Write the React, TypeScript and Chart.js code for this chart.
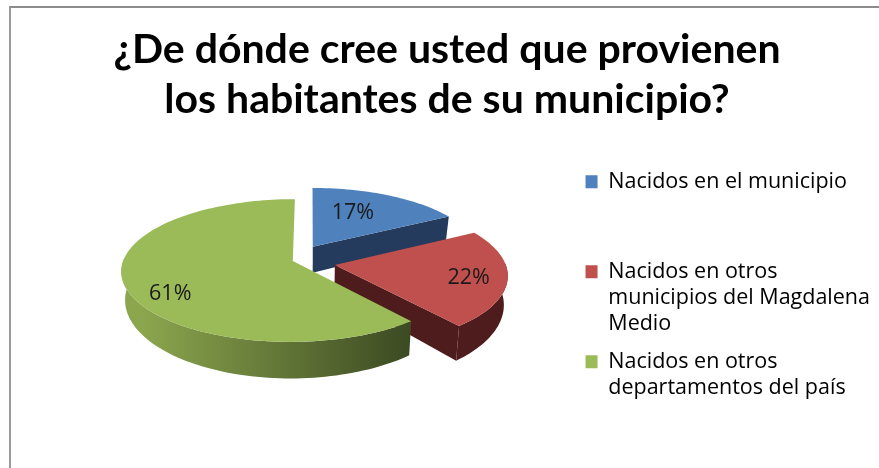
import React, { useEffect, useRef } from "react";
import { Chart, registerables } from "chart.js";

Chart.register(...registerables);

const titleLines = ["¿De dónde cree usted que provienen", "los habitantes de su municipio?"];
const categories = [
  "Nacidos en el municipio",
  "Nacidos en otros municipios del Magdalena Medio",
  "Nacidos en otros departamentos del país",
];
const legendLines = [
  ["Nacidos en el municipio", "", ""],
  ["Nacidos en otros", "municipios del Magdalena", "Medio"],
  ["Nacidos en otros", "departamentos del país"],
];
const values = [17, 22, 61];
const colors = ["#4F81BD", "#C0504D", "#9BBB59"];
const sideColors = ["#243B5E", "#4E1C1C", null];

// 3D look: perspective and slice separation, as fractions of the pie radius
const RADIUS_SCALE = 170 / 142;
const CENTER_SHIFT = { x: 17, y: -25 };
const TILT = 0.414;
const PERSPECTIVE = 0.133;
const DEPTH = 27.6;
const sliceShift = [
  { u: 0.012, v: 0.224 },
  { u: 0.141, v: -0.041 },
  { u: -0.106, v: 0.014 },
];
const labelPlace = [
  { f: 0.6, dx: -7, dy: -2 },
  { f: 0.75, dx: 5, dy: 3 },
  { f: 0.75, dx: 2, dy: 14 },
];

const pie3d = {
  id: "pie3d",
  beforeDatasetDraw(chart: any, args: any) {
    const { ctx } = chart;
    const arcs = args.meta.data;
    arcs.forEach((arc: any, i: number) => {
      const R = arc.outerRadius * RADIUS_SCALE;
      const cx = arc.x + CENTER_SHIFT.x;
      const cy = arc.y + CENTER_SHIFT.y;
      const du = sliceShift[i].u * R;
      const dv = sliceShift[i].v * R;
      const project = (theta: number, f: number) => {
        const u = du + f * R * Math.sin(theta);
        const v = dv + f * R * Math.cos(theta);
        const s = 1 / (1 + (PERSPECTIVE * v) / R);
        return { x: cx + u * s, y: cy - TILT * v * s, s };
      };
      const lower = (p: any) => ({
        x: cx + (p.x - cx) * 0.98,
        y: p.y + DEPTH * p.s * p.s,
      });
      const start = arc.startAngle + Math.PI / 2;
      const end = arc.endAngle + Math.PI / 2;
      const n = Math.ceil((end - start) / 0.03);
      const apex = project(start, 0);
      const thetas: number[] = [];
      for (let k = 0; k <= n; k++) thetas.push(start + ((end - start) * k) / n);
      const rim = thetas.map((t) => project(t, 1));
      const front = thetas.filter((t) => Math.cos(t) < 0.05).map((t) => project(t, 1));
      const mid = (start + end) / 2;
      let side: any = sideColors[i];
      if (!side) {
        const g = ctx.createLinearGradient(cx - R, 0, cx + R * 0.62, 0);
        g.addColorStop(0, "#8CA64E");
        g.addColorStop(1, "#3A4821");
        side = g;
      }
      ctx.save();
      ctx.fillStyle = side;
      const fillPoly = (pts: any[]) => {
        ctx.beginPath();
        pts.forEach((p, k) => (k ? ctx.lineTo(p.x, p.y) : ctx.moveTo(p.x, p.y)));
        ctx.closePath();
        ctx.fill();
      };
      if (front.length > 1) {
        fillPoly([...front, ...front.slice().reverse().map(lower)]);
      }
      if (mid < Math.PI) {
        const tip = rim[rim.length - 1];
        fillPoly([apex, tip, lower(tip), lower(apex)]);
      }
      ctx.fillStyle = arc.options.backgroundColor;
      fillPoly([apex, ...rim]);
      const at = project(mid, labelPlace[i].f);
      ctx.fillStyle = "#1A1A1A";
      ctx.font = "21.5px 'Open Sans'";
      ctx.textAlign = "center";
      ctx.textBaseline = "middle";
      ctx.fillText(`${values[i]}%`, at.x + labelPlace[i].dx, at.y + labelPlace[i].dy);
      ctx.restore();
    });
    return false;
  },
};

export default function App() {
  const ref = useRef<HTMLCanvasElement>(null);
  useEffect(() => {
    const chart = new Chart(ref.current as HTMLCanvasElement, {
      type: "pie",
      data: {
        labels: categories,
        datasets: [{ data: values, backgroundColor: colors, borderWidth: 0 }],
      },
      options: {
        responsive: false,
        animation: false,
        layout: { padding: { left: 14, right: -1, top: 25, bottom: 39 } },
        plugins: {
          tooltip: { enabled: false },
          title: {
            display: true,
            text: titleLines,
            color: "#000000",
            font: { family: "Lato", size: 41, weight: "bold", lineHeight: 1.22 },
            padding: { top: 0, bottom: 20 },
          },
          legend: {
            position: "right",
            fullSize: false,
            labels: {
              boxWidth: 12,
              boxHeight: 13,
              padding: 12,
              color: "#1A1A1A",
              font: { family: "'Open Sans'", size: 21.5, lineHeight: 1.21 },
              generateLabels: () =>
                legendLines.map((text, i) => ({
                  text,
                  fillStyle: colors[i],
                  strokeStyle: colors[i],
                  lineWidth: 0,
                  hidden: false,
                  index: i,
                })) as any,
            },
          },
        },
      } as any,
      plugins: [pie3d],
    });
    return () => chart.destroy();
  }, []);
  return (
    <div style={{ position: "fixed", inset: 0, overflow: "hidden", background: "#fff" }}>
      <div
        style={{
          position: "absolute",
          left: 9,
          top: 6,
          right: 0,
          bottom: 0,
          borderTop: "2px solid #8C8C8C",
          borderLeft: "2px solid #9A9A9A",
        }}
      />
      <canvas ref={ref} width={879} height={468} style={{ position: "absolute", left: 0, top: 0 }} />
    </div>
  );
}
